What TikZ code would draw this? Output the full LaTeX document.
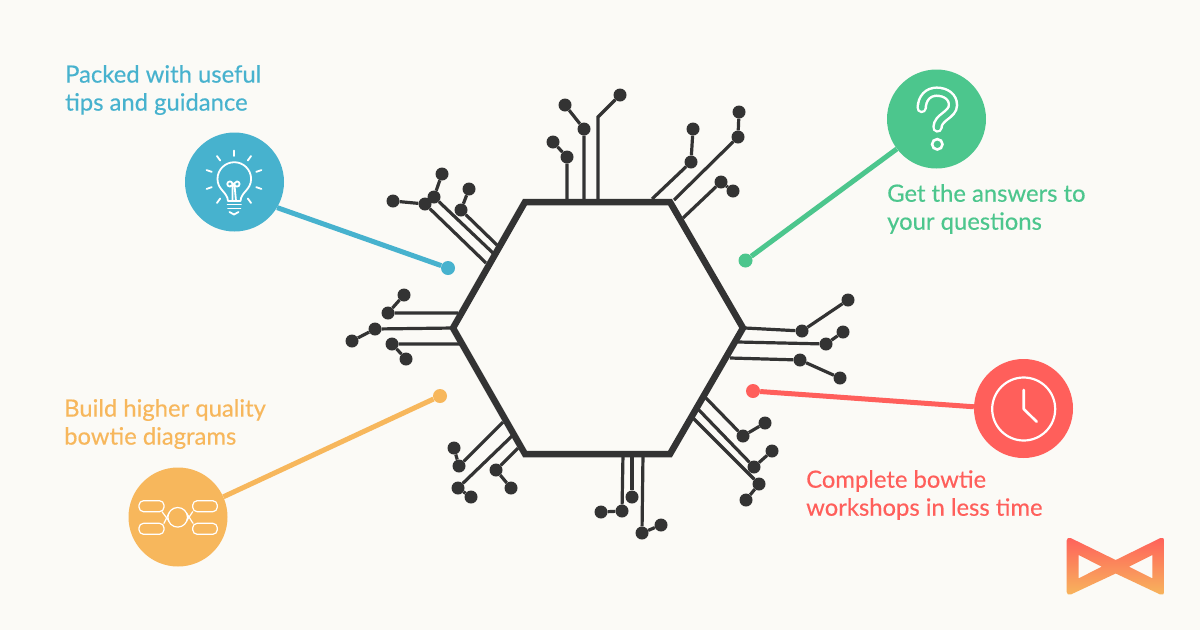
\documentclass[tikz,border=0pt]{standalone}
\usepackage{fontspec}
\setmainfont{Lato}[FakeBold=0.35]
\definecolor{Paper}{HTML}{FBFAF6}
\definecolor{Ink}{HTML}{333333}
\definecolor{Tips}{HTML}{47B2CE}
\definecolor{Answers}{HTML}{4CC68D}
\definecolor{Quality}{HTML}{F7B75C}
\definecolor{Workshops}{HTML}{FF5F5B}
\tikzset{
  pad/.style={circle, fill=Ink, inner sep=0pt, minimum size=13pt},
  wire/.style={draw=Ink, line width=3.2pt},
  disc/.style={circle, inner sep=0pt, minimum size=99pt},
  tipdot/.style={circle, inner sep=0pt, minimum size=14pt},
  leader/.style={line width=5pt},
  caption/.style={anchor=west, align=left, inner sep=0pt, font=\fontsize{23.8}{28}\selectfont},
  icon/.style={draw=white, line width=1.8pt, line cap=round, line join=round},
}
\begin{document}
\begin{tikzpicture}[x=1pt, y=-1pt]

 \useasboundingbox (0,0) rectangle (1200,630);
 \fill [Paper] (0,0) rectangle (1200,630);

 %%%%%%%%%% Hexagon corners %%%%%%%%%%
 \coordinate (h0) at (525,202);
 \coordinate (h1) at (670,202);
 \coordinate (h2) at (743,328);
 \coordinate (h3) at (670,454);
 \coordinate (h4) at (525,454);
 \coordinate (h5) at (453,328);

 %%%%%%%%%%% Wires with two pads %%%%%%%%%%%
 \foreach \i/\sx/\sy/\mx/\my/\ex/\ey in {
   a/486/263/425/204/393/201, b/493/253/434/197/442/174, c/497/245/461/210/469/189,
   d/567/202/567/157/553/142, e/584/202/584/129/565/105,
   g/652/199/691/162/693/129, j/674/200/738/137/739/112, k/683/218/721/182/733/191,
   l/745/328/802/331/848/300, m/738/342/826/344/843/332, n/730/358/800/360/840/378,
   o/704/396/743/436/765/423, p/697/408/754/467/772/451, q/692/417/759/484/746/500,
   r/503/422/459/466/454/448, s/512/436/458/488/471/497, t/518/448/496/470/511/488,
   u/623/454/622/511/601/512, v/643/454/642/533/661/525,
   w/458/313/388/313/404/295, y/453/328/375/329/352/341, z/460/344/392/344/406/359}
 {
   \coordinate (s\i) at (\sx,\sy);
   \node [pad] (m\i) at (\mx,\my) {};
   \node [pad] (e\i) at (\ex,\ey) {};
   \draw [wire] (s\i) -- (m\i) -- (e\i);
 }

 % the two odd ones
 \coordinate (sf) at (598,202);
 \coordinate (bf) at (598,117);
 \node [pad] (ef) at (620,95) {};
 \draw [wire] (sf) -- (bf) -- (ef);
 \coordinate (sh) at (632,454);
 \node [pad] (eh) at (632,497) {};
 \draw [wire] (sh) -- (eh);

 \draw [Ink, line width=6.5pt, miter limit=4] (h0) -- (h1) -- (h2) -- (h3) -- (h4) -- (h5) -- cycle;

 %%%%%%%%%%% Discs and leaders %%%%%%%%%%%
 \node [disc, fill=Tips] (bulb) at (234.5,182) {};
 \node [tipdot, fill=Tips] (bulbdot) at (448,268) {};
 \draw [leader, Tips] (bulb.-31) -- (bulbdot);

 \node [disc, fill=Answers] (quest) at (936.5,119) {};
 \node [tipdot, fill=Answers] (questdot) at (745.5,260.5) {};
 \draw [leader, Answers] (quest.217) -- (questdot);

 \node [disc, fill=Quality] (bow) at (178,517) {};
 \node [tipdot, fill=Quality] (bowdot) at (440,396) {};
 \draw [leader, Quality] (bow.24) -- (bowdot);

 \node [disc, fill=Workshops] (clock) at (1023.5,408.5) {};
 \node [tipdot, fill=Workshops] (clockdot) at (753,391) {};
 \draw [leader, Workshops] (clock.178) -- (clockdot);

 %%%%%%%%%%% Captions %%%%%%%%%%%
 \node [caption, text=Tips] (tipstext) at (65,90) {Packed with useful\\tips and guidance};
 \node [caption, text=Answers] (answerstext) at (887,209) {Get the answers to\\your questions};
 \node [caption, text=Quality] (qualitytext) at (64,424) {Build higher quality\\bowtie diagrams};
 \node [caption, text=Workshops] (workshopstext) at (806,495) {Complete bowtie\\workshops in less time};

 %%%%%%%%%%% Bulb icon %%%%%%%%%%%
 \foreach \a in {90,126,161,199,234,54,19,-19,-54}
 {
   \draw [icon] (234,179.5) ++(-\a:23.5) -- ++(-\a:5.5);
 }
 \draw [icon] (228,201) .. controls (227.5,192) and (217.5,190) .. (217.5,179) arc (180:360:16.8)
   .. controls (251,190) and (241,192) .. (240.5,201) -- cycle;
 \draw [icon] (232.5,201) -- (232.5,184) arc (0:-270:2.6) -- (237,181.4) arc (-90:180:2.6) -- (236,201);
 \draw [icon] (227.5,204.5) -- (241,204.5);
 \draw [icon] (228,208.5) -- (240.5,208.5);
 \draw [icon] (229.5,212) -- (234,214.5) -- (238.5,212);

 %%%%%%%%%%% Question mark %%%%%%%%%%%
 \draw [white, line width=10.5pt, line cap=round]
   (921.7,108) .. controls (922,98) and (928,91.7) .. (936.7,91.7)
   .. controls (946,91.7) and (953,97) .. (953,105)
   .. controls (953,115) and (937.5,117) .. (937.5,127.5);
 \draw [Answers, line width=5.5pt, line cap=round]
   (921.7,108) .. controls (922,98) and (928,91.7) .. (936.7,91.7)
   .. controls (946,91.7) and (953,97) .. (953,105)
   .. controls (953,115) and (937.5,117) .. (937.5,127.5);
 \draw [white, line width=2.6pt] (937.3,144.3) circle (5.2);

 %%%%%%%%%%% Bowtie icon %%%%%%%%%%%
 \draw [icon, line width=1.2pt] (177.7,517.3) circle (9.8);
 \draw [icon, line width=1.2pt, rounded corners=4.5pt] (139,500.7) rectangle (164,511.7);
 \draw [icon, line width=1.2pt, rounded corners=4.5pt] (139,523.3) rectangle (164,534.3);
 \draw [icon, line width=1.2pt, rounded corners=4.5pt] (192.7,500.7) rectangle (217.3,511.7);
 \draw [icon, line width=1.2pt, rounded corners=4.5pt] (192.7,523.3) rectangle (217.3,534.3);
 \draw [icon, line width=1.2pt] (162,511.7) -- (169,521);
 \draw [icon, line width=1.2pt] (164,523.3) -- (169,513);
 \draw [icon, line width=1.2pt] (192.7,511.7) -- (186.5,521);
 \draw [icon, line width=1.2pt] (193,523.3) -- (186.5,513);

 %%%%%%%%%%% Clock icon %%%%%%%%%%%
 \draw [icon, line width=2.2pt] (1023.7,409) circle (31.5);
 \draw [icon, line width=2.6pt] (1023.7,390) -- (1023.7,409) -- (1036.7,421.7);

 %%%%%%%%%%% Logo %%%%%%%%%%%
 \shade [top color=Workshops, bottom color=Quality, even odd rule]
   (1115.7,560) [rounded corners=5pt] -- (1066.5,536) -- (1066.5,596.5) [sharp corners] -- (1115.7,573.5)
   [rounded corners=5pt] -- (1164.5,596.5) -- (1164.5,536) [sharp corners] -- cycle
   (1078.7,555) -- (1101.7,566.7) -- (1078.7,578.3) -- cycle
   (1152.3,555) -- (1129,566.7) -- (1152.3,578.3) -- cycle;

\end{tikzpicture}
\end{document}
